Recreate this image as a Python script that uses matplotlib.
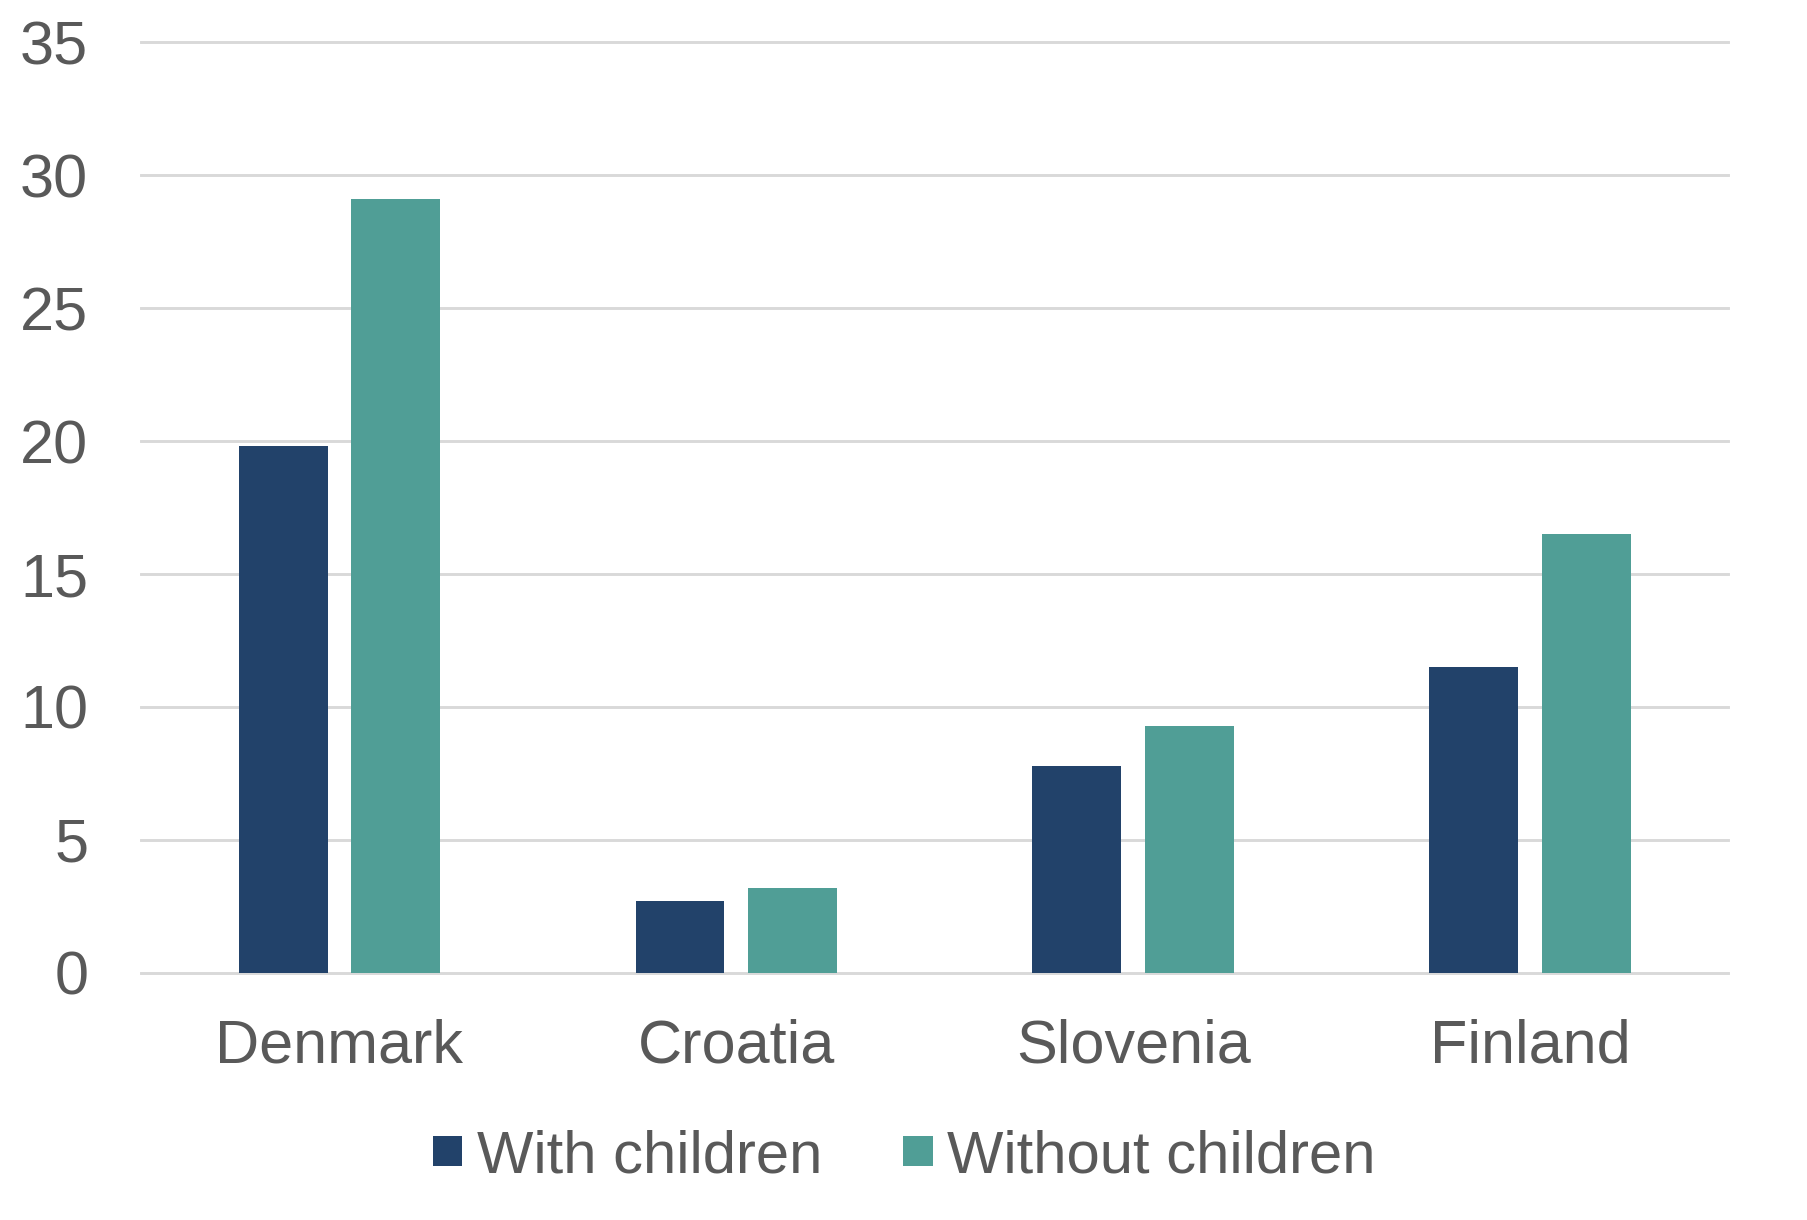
import numpy as np
import matplotlib.pyplot as plt

plt.rcParams['font.family'] = ['Liberation Sans', 'DejaVu Sans']

countries = ['Denmark', 'Croatia', 'Slovenia', 'Finland']
with_children = [19.8, 2.7, 7.8, 11.5]
without_children = [29.1, 3.2, 9.3, 16.5]
yticks = [0, 5, 10, 15, 20, 25, 30, 35]

navy = '#22426a'
teal = '#509e96'
grey_text = '#595959'
grid_col = '#d9d9d9'

fig = plt.figure(figsize=(18.08, 12.2), dpi=100)
ax = fig.add_axes([0.078, 0.2025, 0.878, 0.763])

x = np.arange(len(countries))
w = 0.224
ax.bar(x - 0.142, with_children, w, color=navy, label='With children', zorder=3)
ax.bar(x + 0.142, without_children, w, color=teal, label='Without children', zorder=3)

ax.set_xlim(-0.5, 3.5)
ax.set_ylim(0, 35)
ax.set_yticks(yticks)
ax.set_xticks(x)
ax.set_xticklabels(countries)

# light horizontal gridlines, no frame
for spine in ax.spines.values():
    spine.set_visible(False)
ax.yaxis.grid(True, color=grid_col, linewidth=2.1, zorder=0)
ax.set_axisbelow(True)
for gl in ax.get_ygridlines():
    gl.set_clip_on(False)

ax.tick_params(axis='y', length=0, pad=38, labelsize=44, labelcolor=grey_text)
ax.tick_params(axis='x', length=0, pad=33, labelsize=44, labelcolor=grey_text)

fig.legend(loc='center', bbox_to_anchor=(0.5, 1 - 1157 / 1220), ncol=2,
           frameon=False, fontsize=43, labelcolor=grey_text,
           handlelength=0.5, handleheight=0.39, handletextpad=0.24,
           columnspacing=1.35)

fig.savefig('out.png', dpi=100, facecolor='white')
